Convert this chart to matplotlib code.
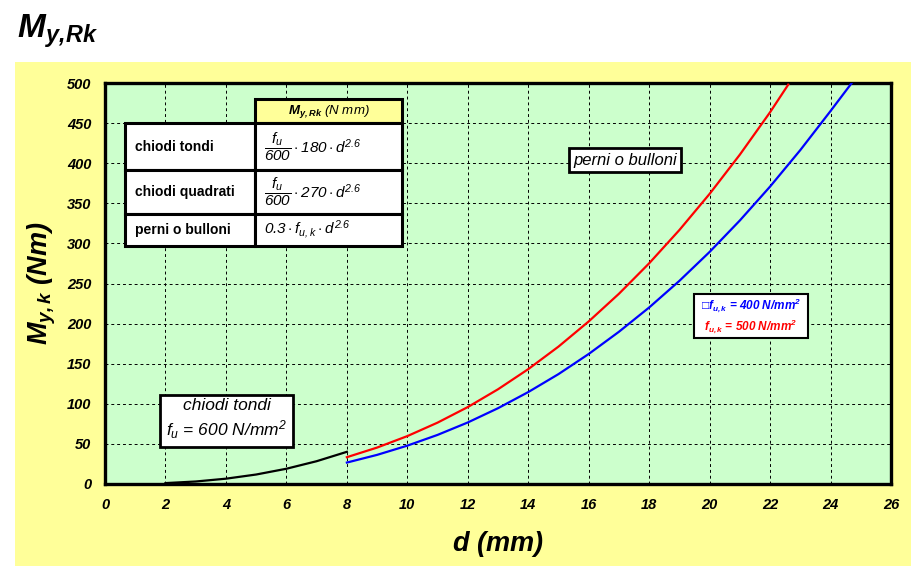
import matplotlib
matplotlib.use("Agg")
import matplotlib.pyplot as plt
from matplotlib.patches import Rectangle

##################
# Chart settings #
##################

plt.rcParams['font.family'] = ['Liberation Sans', 'DejaVu Sans']
plt.rcParams['mathtext.fontset'] = 'custom'
plt.rcParams['mathtext.rm'] = 'Liberation Sans:italic'
plt.rcParams['mathtext.it'] = 'Liberation Sans:italic'
plt.rcParams['mathtext.bf'] = 'Liberation Sans:bold:italic'

########
# Data #
########

# chiodi tondi, f_u = 600 N/mm2
d_nails = [2, 3, 4, 5, 6, 7, 8]
m_nails = [1.1, 3.1, 6.6, 11.8, 19.0, 28.4, 40.1]

# perni o bulloni, f_uk = 500 N/mm2
d_bolts_500 = [8, 9, 10, 11, 12, 13, 14, 15, 16, 17, 18, 19, 20, 21, 22, 22.6]
m_bolts_500 = [33.4, 45.4, 59.7, 76.5, 95.9, 118.1, 143.2, 171.3, 202.7,
               237.2, 275.2, 316.7, 361.8, 410.7, 463.6, 498.0]

# perni o bulloni, f_uk = 400 N/mm2
d_bolts_400 = [8, 9, 10, 11, 12, 13, 14, 15, 16, 17, 18, 19, 20, 21, 22,
               23, 24, 24.7]
m_bolts_400 = [26.7, 36.3, 47.8, 61.2, 76.7, 94.5, 114.6, 137.0, 162.1,
               189.8, 220.1, 253.3, 289.4, 328.6, 370.9, 416.4, 465.1, 500.0]

x_ticks = list(range(0, 27, 2))
y_ticks = list(range(0, 501, 50))

table_rows = ["chiodi tondi", "chiodi quadrati", "perni o bulloni"]
table_formulas = [r"$\dfrac{f_u}{600}\cdot 180\cdot d^{2.6}$",
                  r"$\dfrac{f_u}{600}\cdot 270\cdot d^{2.6}$",
                  r"$0.3\cdot f_{u,k}\cdot d^{2.6}$"]

##########
# Figure #
##########

fig = plt.figure(figsize=(9.18, 5.71), dpi=100)
fig.patch.set_facecolor('white')

# yellow frame behind the plot
fig.patches.append(Rectangle((0.0163, 0.0088), 0.976, 0.8826,
                             transform=fig.transFigure, facecolor='#FFFF99',
                             edgecolor='none', zorder=-5))

fig.text(0.018, 0.945, r"$\mathbf{M_{y,\!Rk}}$", fontsize=24, va='center',
         ha='left')

ax = fig.add_axes([0.1144, 0.1524, 0.8562, 0.7022])
ax.set_facecolor('#CCFFCC')

# curves
ax.plot(d_nails, m_nails, color='black', lw=1.6, zorder=3)
ax.plot(d_bolts_500, m_bolts_500, color='#FF0000', lw=1.6, zorder=3)
ax.plot(d_bolts_400, m_bolts_400, color='#0000FF', lw=1.6, zorder=3)

ax.set_xlim(0, 26)
ax.set_ylim(0, 500)
ax.set_xticks(x_ticks)
ax.set_yticks(y_ticks)
ax.tick_params(length=0, labelsize=10.5, pad=10)
for lbl in ax.get_xticklabels() + ax.get_yticklabels():
    lbl.set_fontweight('bold')
    lbl.set_fontstyle('italic')

ax.grid(True, color='black', lw=0.7, linestyle=(0, (3, 3)))
ax.set_axisbelow(True)
for sp in ax.spines.values():
    sp.set_linewidth(2.4)

ax.set_xlabel(r"$\mathbf{d\ (mm)}$", fontsize=19.5, labelpad=12)
ax.set_ylabel(r"$\mathbf{M_{y,k}\ (Nm)}$", fontsize=19.5, labelpad=6)

#########
# Table #
#########

tr = ax.transAxes
x0, x1, x2 = 0.0254, 0.1908, 0.3779
y_edges = [0.900, 0.783, 0.673, 0.594]

ax.add_patch(Rectangle((x1, 0.900), x2 - x1, 0.060, transform=tr,
                       facecolor='#FFFF99', edgecolor='black', lw=2.2,
                       zorder=5))
ax.text((x1 + x2) / 2, 0.930, r"$\mathbf{M_{y,Rk}}$ (N mm)", transform=tr,
        ha='center', va='center', fontsize=9.5, style='italic', zorder=6)

for i in range(3):
    top = y_edges[i]
    bot = y_edges[i + 1]
    ax.add_patch(Rectangle((x0, bot), x1 - x0, top - bot, transform=tr,
                           facecolor='white', edgecolor='black', lw=2.2,
                           zorder=5))
    ax.add_patch(Rectangle((x1, bot), x2 - x1, top - bot, transform=tr,
                           facecolor='white', edgecolor='black', lw=2.2,
                           zorder=5))
    ax.text(x0 + 0.013, (top + bot) / 2, table_rows[i], transform=tr,
            ha='left', va='center', fontsize=10, fontweight='bold', zorder=6)
    ax.text(x1 + 0.012, (top + bot) / 2, table_formulas[i], transform=tr,
            ha='left', va='center', fontsize=11, zorder=6)

###############
# Annotations #
###############

ax.text(0.6616, 0.808, "perni o bulloni", transform=tr, ha='center',
        va='center', fontsize=12, style='italic', zorder=6,
        bbox=dict(boxstyle='square,pad=0.25', facecolor='white',
                  edgecolor='black', lw=2.0))

ax.text(0.155, 0.160, "chiodi tondi\n" + r"$f_u$ = 600 N/mm$^2$", transform=tr,
        ha='center', va='center', fontsize=12.5, style='italic', zorder=6,
        linespacing=1.3,
        bbox=dict(boxstyle='square,pad=0.35', facecolor='white',
                  edgecolor='black', lw=2.0))

ax.add_patch(Rectangle((0.749, 0.364), 0.145, 0.110, transform=tr,
                       facecolor='white', edgecolor='black', lw=1.5,
                       zorder=5))
ax.text(0.8215, 0.444, "\u25a1" + r"$\mathbf{f_{u,k}}$ = 400 N/mm$\mathbf{^2}$",
        transform=tr, ha='center', va='center', fontsize=8.5,
        fontweight='bold', style='italic', color='#0000FF', zorder=6)
ax.text(0.8215, 0.392, r"$\mathbf{f_{u,k}}$ = 500 N/mm$\mathbf{^2}$",
        transform=tr, ha='center', va='center', fontsize=8.5,
        fontweight='bold', style='italic', color='#FF0000', zorder=6)

plt.savefig("out.png", dpi=100)
